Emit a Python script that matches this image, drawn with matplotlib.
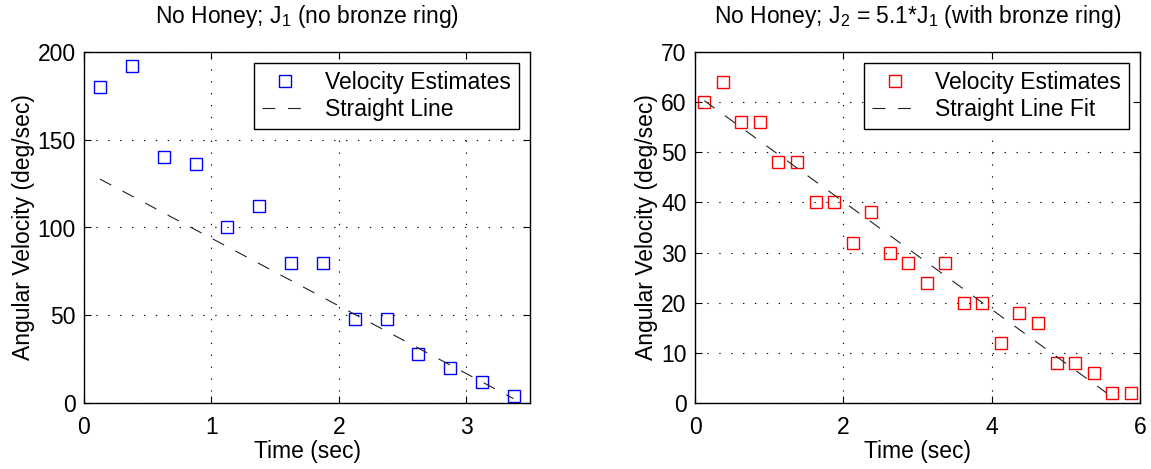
import numpy as np
import matplotlib.pyplot as plt

plt.rcParams['font.family'] = ['Liberation Sans', 'DejaVu Sans']
plt.rcParams['mathtext.fontset'] = 'custom'
plt.rcParams['mathtext.rm'] = 'Liberation Sans'
plt.rcParams['font.size'] = 16.5

# left panel: no bronze ring
t1 = [0.125, 0.375, 0.625, 0.875, 1.125, 1.375, 1.625, 1.875,
      2.125, 2.375, 2.625, 2.875, 3.125, 3.375]
w1 = [180, 192, 140, 136, 100, 112, 80, 80, 48, 48, 28, 20, 12, 4]
fit1_t = [0.125, 3.37]
fit1_w = [127.6, 2.5]

# right panel: with bronze ring
t2 = [0.125, 0.375, 0.625, 0.875, 1.125, 1.375, 1.625, 1.875,
      2.125, 2.375, 2.625, 2.875, 3.125, 3.375, 3.625, 3.875,
      4.125, 4.375, 4.625, 4.875, 5.125, 5.375, 5.625, 5.875]
w2 = [60, 64, 56, 56, 48, 48, 40, 40, 32, 38, 30, 28, 24, 28,
      20, 20, 12, 18, 16, 8, 8, 6, 2, 2]
fit2_t = [0.125, 5.55]
fit2_w = [60.3, 2.0]

W, H = 1151, 469
fig = plt.figure(figsize=(W / 100, H / 100), dpi=100)
ax1 = fig.add_axes([84 / W, 1 - 403 / H, (530 - 84) / W, (403 - 52) / H])
ax2 = fig.add_axes([695 / W, 1 - 403 / H, (1140 - 695) / W, (403 - 52) / H])


def style(ax, t, w, ft, fw, color, fitlabel, xlim, ylim, xticks, yticks, title):
    ax.plot(t, w, 's', ms=8.6, mfc='none', mec=color, mew=1.0,
            label='Velocity Estimates')
    ax.plot(ft, fw, color='#222222', lw=0.8, dashes=(11.5, 11.5),
            label=fitlabel)
    ax.set_xlim(xlim)
    ax.set_ylim(ylim)
    ax.set_xticks(xticks)
    ax.set_yticks(yticks)
    ax.grid(True, color='black', lw=0.8, dashes=(1.2, 9.5))
    ax.tick_params(direction='in', top=True, right=True, length=5,
                   width=0.8, labelsize=16.5)
    ax.tick_params(axis='x', pad=9)
    ax.tick_params(axis='y', pad=6)
    for s in ax.spines.values():
        s.set_linewidth(1.0)
    ax.set_xlabel('Time (sec)', fontsize=16.5, labelpad=1)
    ax.set_ylabel('Angular Velocity (deg/sec)', fontsize=16.5, labelpad=2)
    ax.set_title(title, fontsize=16.5, pad=21)
    leg = ax.legend(loc='upper right', fontsize=16.5, handlelength=2.0,
                    handletextpad=0.75, borderpad=0.35, labelspacing=0.15,
                    borderaxespad=0.5, fancybox=False, framealpha=1,
                    edgecolor='black')
    leg.get_frame().set_linewidth(1.0)


style(ax1, t1, w1, fit1_t, fit1_w, 'blue', 'Straight Line',
      (0, 3.5), (0, 200), [0, 1, 2, 3], [0, 50, 100, 150, 200],
      r'No Honey; J$_{\mathregular{1}}$ (no bronze ring)')
style(ax2, t2, w2, fit2_t, fit2_w, 'red', 'Straight Line Fit',
      (0, 6), (0, 70), [0, 2, 4, 6], [0, 10, 20, 30, 40, 50, 60, 70],
      r'No Honey; J$_{\mathregular{2}}$ = 5.1*J$_{\mathregular{1}}$ (with bronze ring)')

fig.savefig('out.png', dpi=100)
